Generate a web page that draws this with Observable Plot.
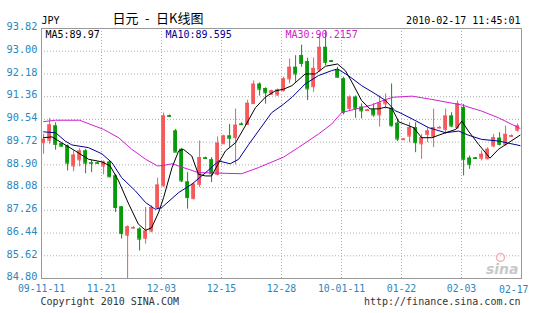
<!DOCTYPE html>
<html><head><meta charset="utf-8">
<script src="https://cdn.jsdelivr.net/npm/d3@7"></script>
<script src="https://cdn.jsdelivr.net/npm/@observablehq/plot@0.6"></script>
<style>body{margin:0;background:#fff}</style>
</head><body><div id="chart"></div>
<script>
// ---- data ----
const opens  = [89.70,89.79,90.30,89.66,89.58,88.86,89.08,89.40,88.97,88.97,
                88.86,89.00,88.50,87.38,86.36,86.62,86.58,86.25,86.51,87.36,
                88.14,90.67,90.12,89.46,88.28,87.68,88.20,89.15,89.08,88.56,
                89.66,89.94,89.88,90.37,90.36,91.11,91.81,91.65,91.45,91.42,
                91.58,92.00,92.42,92.84,92.62,91.72,92.32,93.14,92.65,92.30,
                92.00,90.94,91.34,90.98,90.86,90.88,90.70,91.10,90.94,90.40,
                89.81,89.94,90.24,89.66,90.00,89.91,90.23,90.18,90.66,90.24,
                90.96,89.14,89.15,89.14,89.12,89.58,89.86,89.64,89.93,90.15];
const highs  = [90.00,90.58,90.42,89.68,89.62,89.40,89.48,89.46,89.06,89.00,
                89.04,89.04,88.56,87.40,86.70,86.68,86.63,87.36,87.42,88.42,
                90.77,90.70,90.18,89.50,88.62,88.24,89.76,89.18,89.16,89.91,
                89.97,90.36,90.91,90.42,91.23,91.93,91.86,91.68,91.60,91.64,
                92.06,92.72,92.84,93.22,92.75,92.75,93.62,93.74,92.67,92.42,
                92.06,91.39,91.39,91.10,90.90,91.10,91.39,91.46,91.82,90.55,
                89.85,90.42,90.42,90.00,90.24,90.91,90.28,90.91,90.78,91.20,
                91.08,89.22,89.17,89.40,89.52,90.00,90.06,90.30,89.98,90.37];
const lows   = [89.28,89.64,89.43,89.55,88.68,88.65,88.83,88.58,88.62,88.92,
                88.54,88.44,87.18,86.22,84.80,86.58,85.79,86.04,86.45,87.30,
                88.10,90.62,89.34,88.26,87.30,87.64,88.08,89.10,88.26,88.50,
                89.64,89.52,88.90,90.32,90.33,91.09,91.38,91.09,91.42,91.38,
                91.52,91.82,91.88,92.42,91.22,91.52,92.24,92.48,92.61,92.02,
                90.70,90.85,90.58,90.56,90.84,90.62,90.26,90.92,90.26,89.74,
                89.79,89.70,89.34,89.10,89.70,89.52,90.20,90.00,90.24,90.18,
                88.50,88.74,89.10,89.04,89.08,89.52,89.58,89.58,89.90,90.08];
const closes = [89.82,90.34,89.64,89.57,88.96,89.25,89.40,88.96,88.96,88.96,
                89.00,88.47,87.36,86.42,86.66,86.64,86.22,86.51,87.36,88.17,
                90.66,90.65,89.36,88.32,87.72,88.20,89.16,89.13,88.58,89.68,
                89.94,89.86,90.33,90.35,91.12,91.81,91.63,91.50,91.57,91.60,
                92.00,92.42,92.18,92.56,91.64,92.38,93.14,92.60,92.63,92.06,
                90.80,91.34,90.94,90.85,90.88,90.70,91.13,91.22,90.31,89.83,
                89.83,90.24,89.70,89.88,90.12,90.24,90.25,90.66,90.30,91.11,
                89.10,88.92,89.13,89.28,89.46,89.88,89.64,90.00,89.95,90.30];

// moving-average lines, read as [candle index, value]
const ma5 = [[0,89.88],[1.4,89.91],[3,89.70],[5.3,89.40],[7.5,89.10],[9.7,89.01],[11.1,88.86],
  [12.5,88.32],[14.2,87.48],[15.8,86.76],[17,86.54],[18,86.63],[19.2,87.20],[20,87.72],
  [21.4,88.80],[22.5,89.40],[23.3,89.46],[24.7,89.22],[25.8,88.56],[27,88.50],[28,88.50],
  [29.2,88.98],[30.3,89.40],[32,89.70],[33.6,90.30],[35.3,90.96],[37,91.35],[38.6,91.57],
  [40,91.63],[41.4,91.76],[43.6,92.18],[45.3,92.18],[47,92.46],[49,92.54],[50.3,92.30],
  [51.4,91.88],[53,91.22],[54.4,90.92],[55.8,90.92],[57,90.98],[58.1,90.92],[59.2,90.45],
  [60.3,90.36],[61.7,90.24],[63,89.88],[64.7,89.88],[67,90.06],[68.7,90.18],[69.7,90.48],
  [70.8,90.12],[72.5,89.64],[74.4,89.14],[75.8,89.46],[77.5,89.70],[79.4,89.97]];
const ma10 = [[0,90.09],[2,90.06],[3.6,89.76],[4.7,89.62],[7.5,89.52],[9.7,89.30],[11.4,88.98],
  [13,88.44],[15.3,87.96],[17,87.54],[18.6,87.30],[19.7,87.36],[22.5,87.90],[24.7,88.20],
  [27,88.62],[29.2,89.04],[31.1,88.94],[32.5,89.10],[34.2,89.64],[35.8,90.12],[38,90.78],
  [40,91.09],[41.4,91.34],[43.6,91.82],[45.8,92.12],[48,92.30],[49,92.36],[50.8,92.12],
  [53,91.76],[55.3,91.46],[57,91.22],[58.6,90.85],[59.2,90.80],[61.4,90.56],[64.2,90.24],
  [67,90.06],[69.2,90.12],[70.8,89.97],[73,89.82],[75.8,89.76],[79.4,89.595]];
const ma30 = [[0,90.46],[2,90.51],[6,90.51],[10,90.18],[12.5,89.88],[14.7,89.46],[17,89.10],
  [19,88.86],[20,88.88],[21.4,88.94],[25.8,88.62],[33,88.58],[35.8,88.80],[40,89.18],
  [42.5,89.53],[45.8,90.01],[48,90.37],[49.7,90.79],[52,90.91],[54.7,91.06],[56.9,91.25],
  [58.3,91.34],[61.4,91.38],[64.7,91.26],[69.7,91.06],[73,90.84],[75.8,90.60],[79.4,90.2157]];

const yTicks = [84.80,85.62,86.44,87.26,88.08,88.90,89.72,90.54,91.36,92.18,93.00,93.82];
const xTickIdx = [0,10,20,30,40,50,60,70,80];
const xTickLabels = ["09-11-11","11-21","12-03","12-15","12-28","10-01-11","01-22","02-03","02-17"];
const maLabels = ["MA5:89.97","MA10:89.595","MA30:90.2157"];
const headerLeft = "JPY", headerTitle = "日元 - 日K线图", headerDate = "2010-02-17 11:45:01";
const footLeft = "Copyright 2010 SINA.COM", footRight = "http://finance.sina.com.cn";

// ---- drawing ----
const UP = "#f45a5a", DOWN = "#089a08", AXC = "#2c86bd";
const off = 0.35, half = 0.32;
const candles = opens.map((o, k) => ({k, open: o, high: highs[k], low: lows[k], close: closes[k]}));
const ups = candles.filter(d => d.close >= d.open);
const downs = candles.filter(d => d.close < d.open);
const cx = d => d.k + off;

function candleMarks(data, color) {
  return [
    Plot.ruleX(data, {x: cx, y1: "low", y2: "high", stroke: color}),
    Plot.rect(data, {x1: d => cx(d) - half, x2: d => cx(d) + half, y1: "open", y2: "close", fill: color}),
    Plot.ruleY(data, {y: "open", x1: d => cx(d) - half, x2: d => cx(d) + half, stroke: color}),
    Plot.ruleY(data, {y: "close", x1: d => cx(d) - half, x2: d => cx(d) + half, stroke: color})
  ];
}

const chart = Plot.plot({
  width: 540, height: 313,
  marginLeft: 41, marginRight: 19, marginTop: 28, marginBottom: 35,
  style: {fontFamily: "'DejaVu Sans Mono', monospace", fontSize: "10px", background: "#fff", overflow: "visible"},
  x: {domain: [0, 80], axis: null},
  y: {domain: [84.80, 93.82], axis: null},
  marks: [
    Plot.ruleY(yTicks.slice(1, -1), {stroke: "#b0b0b0", strokeDasharray: "1,2"}),
    Plot.ruleX(xTickIdx.slice(1, -1), {stroke: "#b0b0b0", strokeDasharray: "1,2"}),
    Plot.frame({stroke: "#999"}),
    // sina logo
    Plot.dot([0], {frameAnchor: "bottom-right", dx: -21, dy: -21, r: 4, stroke: "#f5b0b8", fill: "none", strokeWidth: 1.5}),
    Plot.text(["sina"], {frameAnchor: "bottom-right", dx: -3, dy: -9, textAnchor: "end", lineAnchor: "middle",
      fontSize: 14, fontStyle: "italic", fontWeight: "bold", fontFamily: "DejaVu Sans", fill: "#c8c8c8"}),
    ...candleMarks(ups, UP),
    ...candleMarks(downs, DOWN),
    Plot.line(ma30, {x: d => d[0] + off, y: d => d[1], stroke: "#d020d0", strokeWidth: 1}),
    Plot.line(ma10, {x: d => d[0] + off, y: d => d[1], stroke: "#000099", strokeWidth: 1}),
    Plot.line(ma5, {x: d => d[0] + off, y: d => d[1], stroke: "#000", strokeWidth: 1}),
    // axes
    Plot.axisY(yTicks, {tickSize: 0, tickPadding: 4, dy: -1.5, tickFormat: d => d.toFixed(2), fill: AXC, fontSize: 10.3}),
    Plot.axisX(xTickIdx.slice(0, -1), {tickSize: 0, tickPadding: 7, tickFormat: d => xTickLabels[xTickIdx.indexOf(d)], fill: AXC, fontSize: 9.8}),
    Plot.text(xTickIdx.slice(-1), {x: d => d, text: d => xTickLabels[xTickIdx.indexOf(d)], frameAnchor: "bottom",
      dy: 11, textAnchor: "end", dx: 7, lineAnchor: "middle", fill: AXC, fontSize: 9.8}),
    // MA labels
    Plot.text([maLabels[0]], {frameAnchor: "top-left", dx: 4, dy: 6, textAnchor: "start", lineAnchor: "middle", fill: "#000"}),
    Plot.text([maLabels[1]], {frameAnchor: "top-left", dx: 124, dy: 6, textAnchor: "start", lineAnchor: "middle", fill: "#000099"}),
    Plot.text([maLabels[2]], {frameAnchor: "top-left", dx: 244, dy: 6, textAnchor: "start", lineAnchor: "middle", fill: "#d020d0"}),
    // header
    Plot.text([headerLeft], {frameAnchor: "top-left", dx: 0, dy: -8, textAnchor: "start", lineAnchor: "middle", fill: "#000"}),
    Plot.text([headerTitle.replace(/ /g, "\u2002")], {frameAnchor: "top-left", dx: 71, dy: -10, textAnchor: "start", lineAnchor: "middle",
      fontFamily: "'Noto Sans CJK SC', sans-serif", fontSize: 13, fill: "#000"}),
    Plot.text([headerDate], {frameAnchor: "top-right", dx: -1, dy: -8, textAnchor: "end", lineAnchor: "middle", fill: "#000"}),
    // footer
    Plot.text([footLeft], {frameAnchor: "bottom-left", dx: -1, dy: 23, textAnchor: "start", lineAnchor: "middle", fill: "#333"}),
    Plot.text([footRight], {frameAnchor: "bottom-right", dx: -1, dy: 23, textAnchor: "end", lineAnchor: "middle", fill: "#333"})
  ]
});
document.getElementById("chart").append(chart);
</script>
</body></html>
